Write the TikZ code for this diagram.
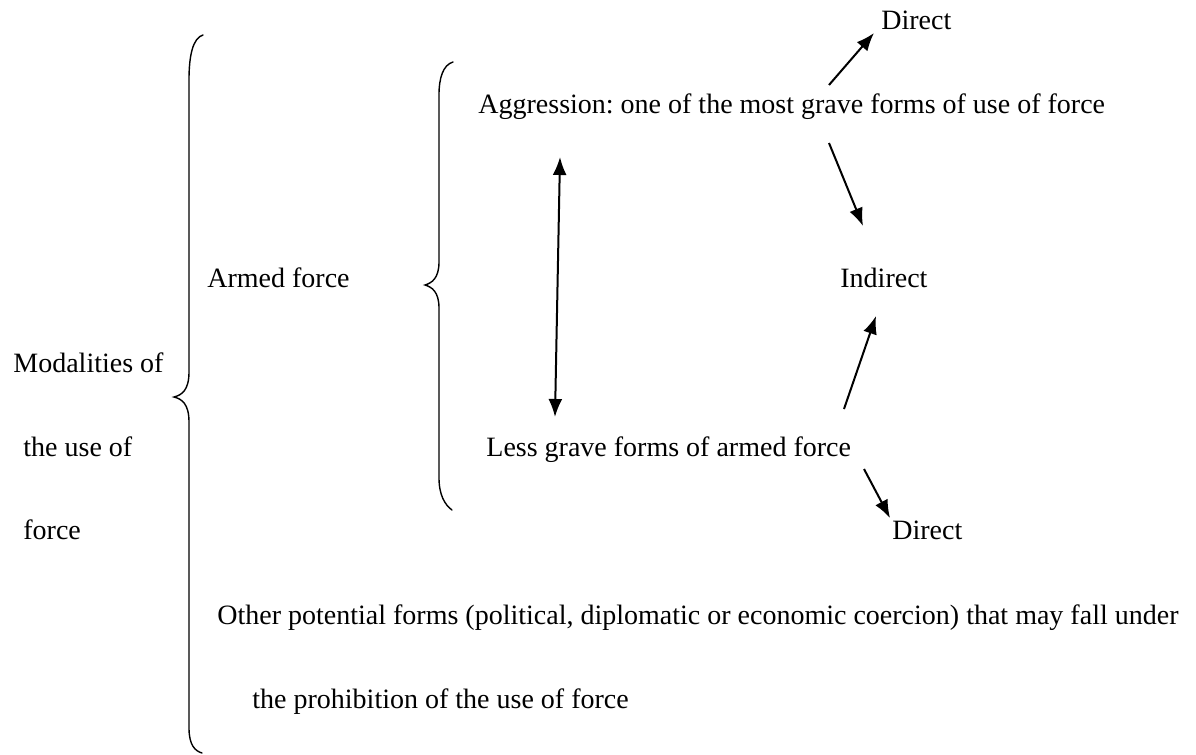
\documentclass[tikz,border=0pt]{standalone}
\usepackage{fontspec}
\setmainfont{Liberation Serif}
\usetikzlibrary{arrows.meta}
\frenchspacing
\begin{document}
\begin{tikzpicture}[x=0.5pt,y=-0.5pt,
  lbl/.style={anchor=base west,inner sep=0pt,font=\fontsize{14}{16}\selectfont},
  brace/.style={line width=0.7pt,line cap=round},
  arr/.style={line width=1pt,-{Latex[length=9pt,width=7pt]}},
  darr/.style={line width=1pt,{Latex[length=9pt,width=7pt]}-{Latex[length=9pt,width=7pt]}}]
\useasboundingbox (0,0) rectangle (1196,755);
% texts
\node[lbl] (mod1) at (13,372) {Modalities of};
\node[lbl] (mod2) at (23,456) {the use of};
\node[lbl] (mod3) at (23,539) {force};
\node[lbl] (armed) at (207,287) {Armed force};
\node[lbl] (agg) at (478,113) {Aggression: one of the most grave forms of use of force};
\node[lbl] (dir1) at (881,30) {Direct};
\node[lbl] (ind) at (840,287) {Indirect};
\node[lbl] (less) at (486,456) {Less grave forms of armed force};
\node[lbl] (dir2) at (892,539) {Direct};
\node[lbl] (oth1) at (217,624) {Other potential forms (political, diplomatic or economic coercion) that may fall under};
\node[lbl] (oth2) at (252,708) {the prohibition of the use of force};
% braces
\draw[brace] (203,35) .. controls (193,38) and (189,55) .. (189,80) -- (189,372)
  .. controls (189,390) and (182,395) .. (174,397)
  .. controls (182,399) and (189,404) .. (189,422) -- (189,728)
  .. controls (189,745) and (195,751) .. (202,753);
\draw[brace] (453,62) .. controls (443,65) and (439,78) .. (439,95) -- (439,262)
  .. controls (439,278) and (432,283) .. (425,285)
  .. controls (432,287) and (439,292) .. (439,308) -- (439,478)
  .. controls (439,495) and (445,505) .. (452,510);
% connector end points
\coordinate (dA) at (555,417);
\coordinate (dB) at (560,157);
\coordinate (a1) at (829,85);
\coordinate (t1) at (874,33);
\coordinate (a2) at (829,143);
\coordinate (t2) at (863,226);
\coordinate (l1) at (844,409);
\coordinate (t3) at (876,316);
\coordinate (l2) at (864,469);
\coordinate (t4) at (890,518);
\draw[darr] (dA) -- (dB);
\draw[arr] (a1) -- (t1);
\draw[arr] (a2) -- (t2);
\draw[arr] (l1) -- (t3);
\draw[arr] (l2) -- (t4);
\end{tikzpicture}
\end{document}
